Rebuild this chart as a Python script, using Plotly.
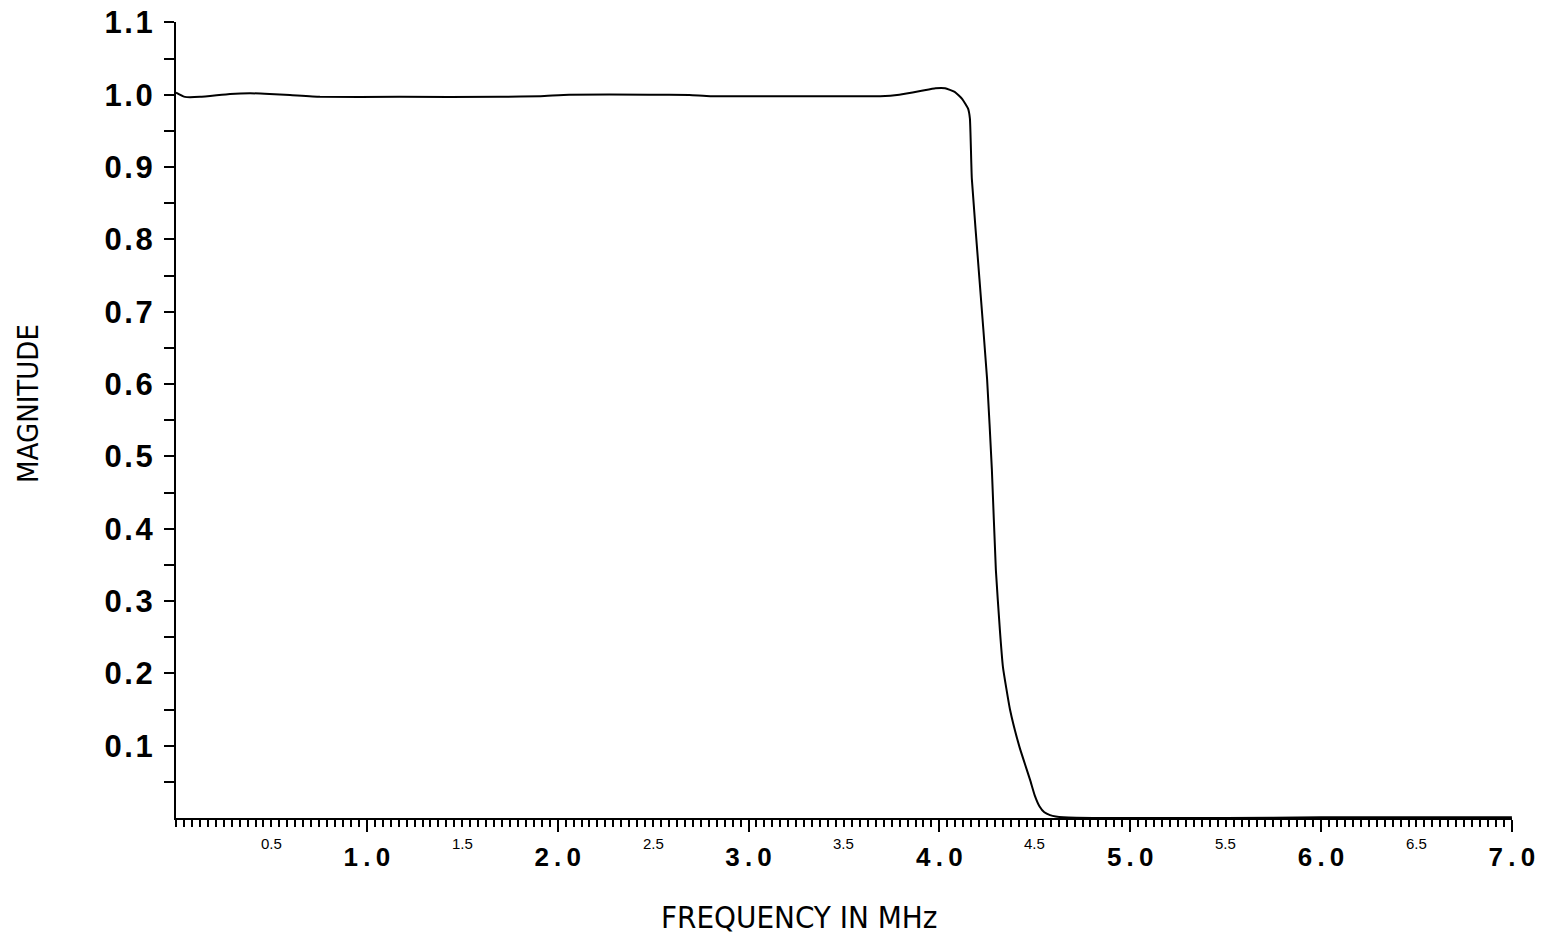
import plotly.graph_objects as go

# Curve values
freq_mhz = [0.0, 0.047, 0.126, 0.283, 0.388, 0.49, 0.597, 0.754, 1.17, 1.70, 1.91, 2.06,
            2.48, 2.69, 2.80, 3.27, 3.69, 3.79, 3.90, 3.98, 4.03, 4.08, 4.12, 4.15,
            4.16, 4.17, 4.21, 4.25, 4.275, 4.296, 4.317, 4.333, 4.37, 4.42, 4.475,
            4.50, 4.525, 4.55, 4.58, 4.61, 4.65, 4.84, 5.5, 6.0, 6.5, 7.0]
magnitude = [1.003, 0.997, 0.997, 1.001, 1.002, 1.001, 0.9995, 0.997, 0.997, 0.997, 0.998, 1.0,
             1.0, 0.9995, 0.998, 0.998, 0.998, 1.0, 1.005, 1.009, 1.009, 1.004, 0.994, 0.981,
             0.967, 0.884, 0.745, 0.607, 0.482, 0.343, 0.26, 0.209, 0.150, 0.098, 0.053,
             0.031, 0.016, 0.008, 0.004, 0.002, 0.001, 0.0, 0.0, 0.001, 0.001, 0.001]

x_major_vals = [1, 2, 3, 4, 5, 6, 7]
x_major_text = ["1.0", "2.0", "3.0", "4.0", "5.0", "6.0", "7.0"]
x_half_vals = [0.5, 1.5, 2.5, 3.5, 4.5, 5.5, 6.5]
x_half_text = ["0.5", "1.5", "2.5", "3.5", "4.5", "5.5", "6.5"]
y_vals = [0.1, 0.2, 0.3, 0.4, 0.5, 0.6, 0.7, 0.8, 0.9, 1.0, 1.1]
y_text = ["0.1", "0.2", "0.3", "0.4", "0.5", "0.6", "0.7", "0.8", "0.9", "1.0", "1.1"]

def spaced(s, sp="\u2009"):
    return sp.join(list(s))

TITLE_FONT = "Liberation Sans Narrow, DejaVu Sans Condensed, Liberation Sans"

fig = go.Figure()
fig.add_trace(go.Scatter(x=freq_mhz, y=magnitude, mode="lines",
                         line=dict(color="black", width=2, shape="spline", smoothing=0.4),
                         showlegend=False, hoverinfo="skip"))

for v, t in zip(x_half_vals, x_half_text):
    fig.add_annotation(x=v, y=0, xref="x", yref="paper", text=t, showarrow=False,
                       yanchor="middle", yshift=-25,
                       font=dict(family="Liberation Sans", size=15, color="black"))

fig.add_annotation(x=0.466, y=-0.1244, xref="paper", yref="paper", text="FREQUENCY IN MHz",
                   showarrow=False, xanchor="center", yanchor="middle",
                   font=dict(family=TITLE_FONT, size=31, color="black"))
fig.add_annotation(x=-0.1108, y=0.5214, xref="paper", yref="paper", text="MAGNITUDE",
                   showarrow=False, xanchor="center", yanchor="middle", textangle=-90,
                   font=dict(family=TITLE_FONT, size=29, color="black"))

# page body has an 8px default margin, so the figure is sized/offset to compensate
fig.update_layout(
    width=1550, height=929,
    margin=dict(l=168, r=46, t=14, b=119),
    paper_bgcolor="white", plot_bgcolor="white",
    font=dict(family="Liberation Sans", color="black"),
    xaxis=dict(range=[0, 7.0005], showgrid=False, zeroline=False, automargin=False,
               showline=True, linecolor="black", linewidth=2,
               tickmode="array", tickvals=x_major_vals, ticktext=[spaced(t) for t in x_major_text],
               ticks="outside", ticklen=12, tickwidth=2, tickcolor="black",
               tickfont=dict(family="Liberation Sans", size=26, color="black", weight="bold"),
               ticklabelstandoff=3, ticklabeloverflow="allow",
               minor=dict(tickmode="linear", tick0=0, dtick=1/24, ticks="outside",
                          ticklen=7, tickwidth=1.5, tickcolor="black", showgrid=False)),
    yaxis=dict(range=[0, 1.1005], showgrid=False, zeroline=False, automargin=False,
               showline=True, linecolor="black", linewidth=2,
               tickmode="array", tickvals=y_vals, ticktext=[spaced(t, "\u200a") for t in y_text],
               ticks="outside", ticklen=10, tickwidth=1.5, tickcolor="black",
               tickfont=dict(family="Liberation Sans", size=31, color="black", weight="bold"),
               ticklabelstandoff=5, ticklabeloverflow="allow",
               minor=dict(tickmode="linear", tick0=0.05, dtick=0.1, ticks="outside",
                          ticklen=10, tickwidth=1.5, tickcolor="black", showgrid=False)),
)

fig.write_html("out.html")
